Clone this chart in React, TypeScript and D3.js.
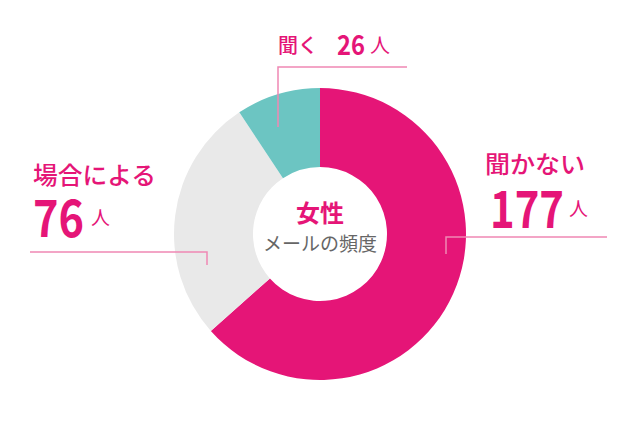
import React from "react";
import * as d3 from "d3";

// 女性 メールの頻度
const categories = ["聞かない", "場合による", "聞く"];
const values = [177, 76, 26];
const colors = ["#e51577", "#e9e9e9", "#6cc5c2"];
const unit = "人";

const W = 636;
const H = 426;
const cx = 320;
const cy = 234;
const outerR = 146;
const innerR = 67;

const PINK = "#e51577";
const LINE = "#f088b4";
const JP = "'Noto Sans CJK JP', 'Noto Sans', sans-serif";

export default function App() {
  const pie = d3
    .pie<number>()
    .value((d) => d)
    .sort(null)
    .startAngle(0)
    .endAngle(Math.PI * 2);
  const arc = d3.arc<d3.PieArcDatum<number>>().innerRadius(innerR).outerRadius(outerR);
  const arcs = pie(values);

  return (
    <div style={{ margin: -8 }}>
      <svg width={W} height={H} style={{ display: "block", background: "#fff" }}>
        <g transform={`translate(${cx},${cy})`}>
          {arcs.map((a, i) => (
            <path key={categories[i]} d={arc(a) || ""} fill={colors[i]} />
          ))}
        </g>

        {/* connector lines */}
        <g fill="none" stroke={LINE} strokeWidth={1.5}>
          <polyline points="407,67 278,67 278,127" />
          <polyline points="30,252 207,252 207,265" />
          <polyline points="607,237 446,237 446,254" />
        </g>

        {/* center */}
        <text x={cx} y={222} textAnchor="middle" fontFamily={JP} fontWeight={700} fontSize={24} fill={PINK}>
          女性
        </text>
        <text x={cx} y={251} textAnchor="middle" fontFamily={JP} fontSize={19} fill="#666">
          メールの頻度
        </text>

        {/* 聞く */}
        <text x={278} y={53} fontFamily={JP} fontWeight={500} fontSize={20} fill={PINK}>
          {categories[2]}
        </text>
        <text x={337} y={55} fontFamily={JP} fontWeight={700} fontSize={27} fill={PINK} textLength={28} lengthAdjust="spacingAndGlyphs">
          {values[2]}
        </text>
        <text x={370} y={53} fontFamily={JP} fontSize={20} fill={PINK}>
          {unit}
        </text>

        {/* 場合による */}
        <text x={33} y={184} fontFamily={JP} fontWeight={500} fontSize={24} fill={PINK} textLength={123} lengthAdjust="spacingAndGlyphs">
          {categories[1]}
        </text>
        <text x={33} y={237} fontFamily={JP} fontWeight={700} fontSize={51} fill={PINK} textLength={51} lengthAdjust="spacingAndGlyphs">
          {values[1]}
        </text>
        <text x={91} y={225} fontFamily={JP} fontSize={19} fill={PINK}>
          {unit}
        </text>

        {/* 聞かない */}
        <text x={485} y={173} fontFamily={JP} fontWeight={500} fontSize={24} fill={PINK} textLength={100} lengthAdjust="spacingAndGlyphs">
          {categories[0]}
        </text>
        <text x={490} y={228} fontFamily={JP} fontWeight={700} fontSize={52} fill={PINK} textLength={74} lengthAdjust="spacingAndGlyphs">
          {values[0]}
        </text>
        <text x={569} y={216} fontFamily={JP} fontSize={19} fill={PINK}>
          {unit}
        </text>
      </svg>
    </div>
  );
}
